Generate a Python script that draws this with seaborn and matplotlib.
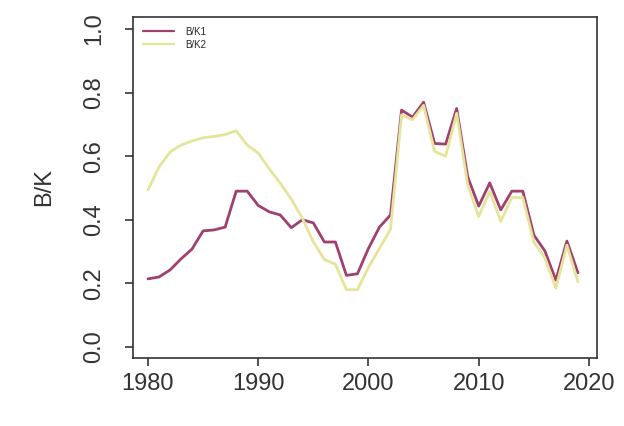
import matplotlib
matplotlib.use("Agg")
import matplotlib.pyplot as plt
import seaborn as sns
import pandas as pd

years = list(range(1980, 2020))
bk1 = [0.214, 0.22, 0.242, 0.277, 0.308, 0.365, 0.368, 0.377, 0.49, 0.49,
       0.445, 0.425, 0.415, 0.375, 0.40, 0.39, 0.33, 0.33, 0.225, 0.23,
       0.31, 0.377, 0.415, 0.745, 0.723, 0.77, 0.64, 0.638, 0.75, 0.535,
       0.443, 0.516, 0.431, 0.49, 0.49, 0.352, 0.302, 0.21, 0.333, 0.233]
bk2 = [0.494, 0.566, 0.613, 0.635, 0.648, 0.658, 0.662, 0.668, 0.68, 0.635,
       0.61, 0.56, 0.515, 0.465, 0.405, 0.33, 0.275, 0.26, 0.18, 0.18,
       0.25, 0.31, 0.37, 0.73, 0.715, 0.76, 0.615, 0.60, 0.735, 0.51,
       0.41, 0.49, 0.395, 0.47, 0.47, 0.33, 0.28, 0.185, 0.32, 0.205]
series_names = ["B/K1", "B/K2"]
colors = ["#A0406E", "#E4E59A"]
xticks = [1980, 1990, 2000, 2010, 2020]
yticks = [0.0, 0.2, 0.4, 0.6, 0.8, 1.0]

sns.set_style("white")
plt.rcParams["font.family"] = ["Liberation Sans", "DejaVu Sans"]

df = pd.DataFrame({"year": years * 2,
                   "value": bk1 + bk2,
                   "series": [series_names[0]] * len(years) + [series_names[1]] * len(years)})

fig = plt.figure(figsize=(6.24, 4.26), dpi=100)
ax = fig.add_axes([133 / 624, 1 - 358 / 426, (597 - 133) / 624, (358 - 17) / 426])
sns.lineplot(data=df, x="year", y="value", hue="series", palette=colors,
             linewidth=2.0, ax=ax, legend=False)

ax.set_xlim(1978.64, 2020.73)
ax.set_ylim(-0.035, 1.038)
ax.set_xticks(xticks)
ax.set_xticklabels([str(t) for t in xticks], fontsize=17)
ax.set_yticks(yticks)
ax.set_yticklabels([f"{t:.1f}" for t in yticks], fontsize=17, rotation=90, va="center")
ax.tick_params(axis="both", direction="out", length=6, width=1.2, color="#333333",
               bottom=True, left=True, labelcolor="#333333")
ax.tick_params(axis="x", pad=5)
ax.tick_params(axis="y", pad=14)
for s in ax.spines.values():
    s.set_visible(True)
    s.set_color("#333333")
    s.set_linewidth(1.2)
ax.set_xlabel("")
ax.set_ylabel("B/K", fontsize=17, color="#333333", labelpad=20)

from matplotlib.lines import Line2D
handles = [Line2D([0], [0], color=c, lw=1.6) for c in colors]
ax.legend(handles, series_names, loc="upper left", bbox_to_anchor=(0.0, 1.0),
          frameon=False, fontsize=7, handlelength=3.2, handletextpad=1.2,
          labelspacing=0.3, borderaxespad=0.6)

fig.savefig("out.png", dpi=100)
